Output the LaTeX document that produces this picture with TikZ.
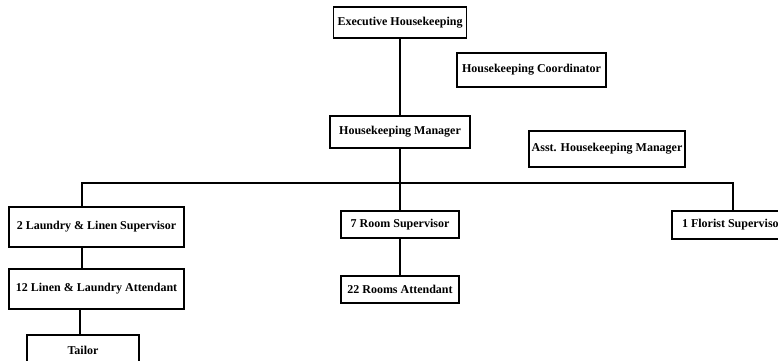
\documentclass[tikz,border=0pt]{standalone}
\usepackage{fontspec}
\setmainfont{Liberation Serif}
\begin{document}
\begin{tikzpicture}[x=1pt,y=1pt,
  box/.style={draw, line width=1.8pt, inner sep=0pt, font=\fontsize{12}{14}\selectfont\bfseries, fill=white},
  conn/.style={line width=2pt}]
\useasboundingbox (0,0) rectangle (778,360);
\clip (0,0) rectangle (778,360);
\coordinate (lx) at (81.5,0);
\coordinate (tx) at (80,0);
\coordinate (bus) at (400,177);
\node[box, minimum width=133, minimum height=31] (exec) at (400,337.5) {Executive Housekeeping};
\node[box, minimum width=149, minimum height=34] (coord) at (531.5,290) {Housekeeping Coordinator};
\node[box, minimum width=140, minimum height=32] (mgr) at (400,228) {Housekeeping Manager};
\node[box, minimum width=156, minimum height=36] (asst) at (607,211) {Asst. Housekeeping Manager};
\node[box, minimum width=175, minimum height=40] (laundry) at (96.5,133) {2 Laundry \& Linen Supervisor};
\node[box, minimum width=175, minimum height=40] (linen) at (96.5,71) {12 Linen \& Laundry Attendant};
\node[box, minimum width=112, minimum height=30] (tailor) at (83,10) {Tailor};
\node[box, minimum width=118, minimum height=27] (roomsup) at (400,135.5) {7 Room Supervisor};
\node[box, minimum width=118, minimum height=27] (rooms) at (400,70.5) {22 Rooms Attendant};
\node[box, minimum width=122, minimum height=28] (florist) at (733,135) {1 Florist Supervisor};
\draw[conn] (exec) -- (mgr);
\draw[conn] (mgr) -- (bus);
\draw[conn] (laundry.north -| lx) |- (bus) -| (florist.north);
\draw[conn] (bus) -- (roomsup);
\draw[conn] (roomsup) -- (rooms);
\draw[conn] (laundry.south -| lx) -- (linen.north -| lx);
\draw[conn] (linen.south -| tx) -- (tailor.north -| tx);
\end{tikzpicture}
\end{document}
